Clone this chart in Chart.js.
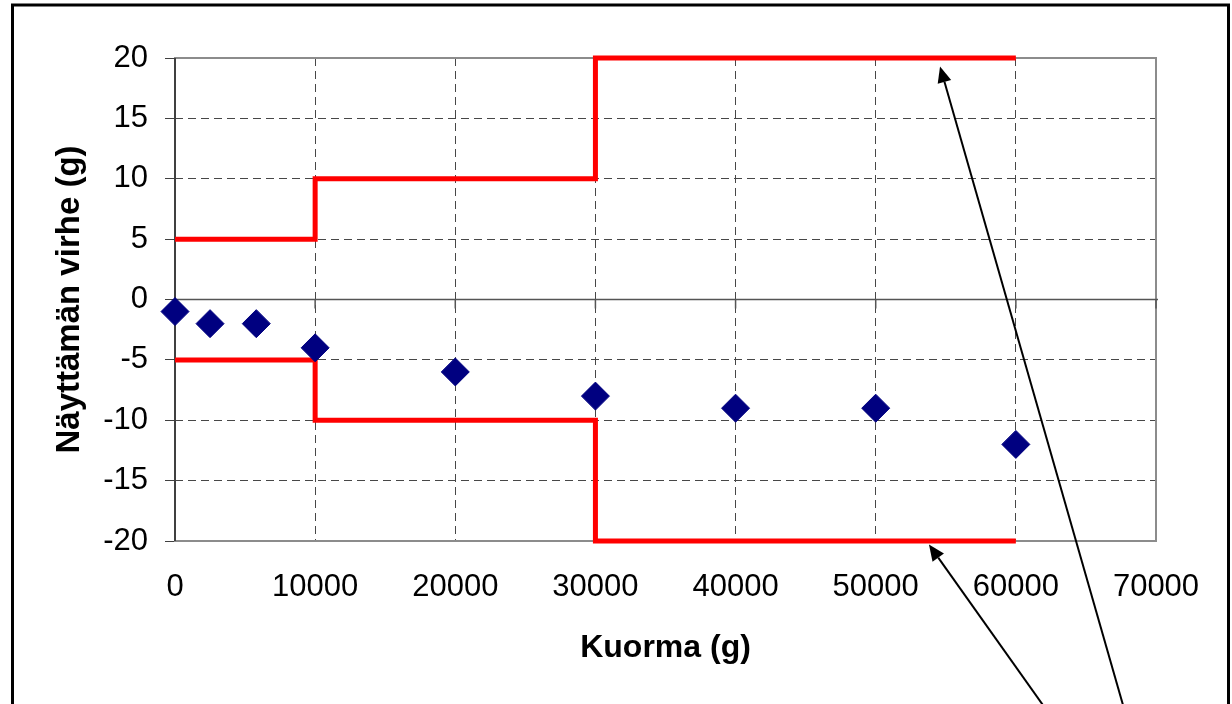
<!DOCTYPE html>
<html>
<head>
<meta charset="utf-8">
<script src="https://cdn.jsdelivr.net/npm/chart.js@4.4.1/dist/chart.umd.min.js"></script>
<style>
  html, body { margin: 0; padding: 0; background: #fff; overflow: hidden; }
  #chart { display: block; }
</style>
</head>
<body>
<canvas id="chart" width="1232" height="704"></canvas>
<script>
// ── Data ──────────────────────────────────────────────────────────────────────

// measured points: load (g) vs indication error (g)
const loadG  = [0, 2500, 5800, 10000, 20000, 30000, 40000, 50000, 60000];
const errorG = [-1, -2, -2, -4, -6, -8, -9, -9, -12];

// tolerance band, drawn as steps
const limitX     = [0, 10000, 10000, 30000, 30000, 60000];
const upperLimit = [5, 5, 10, 10, 20, 20];
const lowerLimit = [-5, -5, -10, -10, -20, -20];

const xTicks = [0, 10000, 20000, 30000, 40000, 50000, 60000, 70000];
const yTicks = [-20, -15, -10, -5, 0, 5, 10, 15, 20];

// annotation arrows pointing at the limit lines (data units)
const arrowFrom = [[67650, -33.6], [61940, -33.6]];
const arrowTo   = [[54590, 19.3], [53800, -20.3]];

const FONT = '"Liberation Sans", Arial, sans-serif';

const pts = (xs, ys) => xs.map((x, i) => ({ x, y: ys[i] }));

// ── Extra drawing ─────────────────────────────────────────────────────────────

const decor = {
    id: 'decor',
    beforeDatasetsDraw(chart) {
        const { ctx, chartArea: a, scales: { x, y } } = chart;
        ctx.save();
        // plot area border
        ctx.strokeStyle = '#8c8c8c';
        ctx.lineWidth = 2;
        ctx.strokeRect(a.left, a.top, a.right - a.left, a.bottom - a.top);
        // y axis line
        ctx.strokeStyle = '#404040';
        ctx.beginPath();
        ctx.moveTo(a.left, a.top);
        ctx.lineTo(a.left, a.bottom);
        ctx.stroke();
        // x axis crossing at zero, with its tick marks
        const y0 = y.getPixelForValue(0);
        ctx.strokeStyle = '#555';
        ctx.lineWidth = 1.5;
        ctx.beginPath();
        ctx.moveTo(a.left, y0);
        ctx.lineTo(a.right + 2, y0);
        xTicks.forEach(v => {
            const px = x.getPixelForValue(v);
            ctx.moveTo(px, y0);
            ctx.lineTo(px, y0 + 9);
        });
        ctx.stroke();
        ctx.restore();
    },
    afterDraw(chart) {
        const { ctx, scales: { x, y } } = chart;
        ctx.save();
        // arrows
        ctx.strokeStyle = '#000';
        ctx.fillStyle = '#000';
        ctx.lineWidth = 2;
        arrowFrom.forEach((f, i) => {
            const x1 = x.getPixelForValue(f[0]), y1 = y.getPixelForValue(f[1]);
            const x2 = x.getPixelForValue(arrowTo[i][0]), y2 = y.getPixelForValue(arrowTo[i][1]);
            const ang = Math.atan2(y2 - y1, x2 - x1);
            const len = 16, half = 7;
            const bx = x2 - len * Math.cos(ang), by = y2 - len * Math.sin(ang);
            ctx.beginPath();
            ctx.moveTo(x1, y1);
            ctx.lineTo(bx, by);
            ctx.stroke();
            ctx.beginPath();
            ctx.moveTo(x2, y2);
            ctx.lineTo(bx + half * Math.sin(ang), by - half * Math.cos(ang));
            ctx.lineTo(bx - half * Math.sin(ang), by + half * Math.cos(ang));
            ctx.closePath();
            ctx.fill();
        });
        // outer frame
        ctx.lineWidth = 3;
        ctx.strokeRect(12.5, 5, 1216, 760);
        ctx.restore();
    }
};

// ── Chart ─────────────────────────────────────────────────────────────────────

new Chart(document.getElementById('chart').getContext('2d'), {
    type: 'scatter',
    data: {
        datasets: [
            {
                label: 'Mitattu virhe',
                data: pts(loadG, errorG),
                pointStyle: 'rectRot',
                pointRadius: 14,
                pointBackgroundColor: '#000080',
                pointBorderColor: '#000080',
                pointBorderWidth: 1,
                showLine: false,
                clip: false,
                order: 0
            },
            {
                label: 'Yläraja',
                data: pts(limitX, upperLimit),
                showLine: true,
                borderColor: '#ff0000',
                borderWidth: 5,
                pointRadius: 0,
                tension: 0,
                clip: false,
                order: 1
            },
            {
                label: 'Alaraja',
                data: pts(limitX, lowerLimit),
                showLine: true,
                borderColor: '#ff0000',
                borderWidth: 5,
                pointRadius: 0,
                tension: 0,
                clip: false,
                order: 1
            }
        ]
    },
    options: {
        responsive: false,
        animation: false,
        layout: { padding: { left: 0, top: 58, right: 76, bottom: 0 } },
        plugins: {
            legend: { display: false },
            tooltip: { enabled: false }
        },
        scales: {
            x: {
                type: 'linear',
                min: 0, max: 70000,
                afterBuildTicks: s => { s.ticks = xTicks.map(v => ({ value: v })); },
                afterFit: s => { s.height = 163; },
                ticks: {
                    color: '#000',
                    font: { family: FONT, size: 31 },
                    padding: 28,
                    maxRotation: 0,
                    callback: v => String(v)
                },
                grid: { color: '#474747', lineWidth: 1, drawTicks: false },
                border: { display: false, dash: [8, 5] },
                title: {
                    display: true,
                    text: 'Kuorma (g)',
                    color: '#000',
                    font: { family: FONT, size: 32, weight: 'bold' },
                    padding: { top: 0, bottom: 37 }
                }
            },
            y: {
                type: 'linear',
                min: -20, max: 20,
                afterBuildTicks: s => { s.ticks = yTicks.map(v => ({ value: v })); },
                afterFit: s => { s.width = 175; },
                ticks: {
                    color: '#000',
                    font: { family: FONT, size: 31 },
                    padding: 17,
                    callback: v => String(v)
                },
                grid: {
                    color: '#474747', lineWidth: 1,
                    drawTicks: true, tickLength: 10,
                    tickColor: '#404040', tickBorderDash: []
                },
                border: { display: false, dash: [8, 5] },
                title: {
                    display: true,
                    text: 'Näyttämän virhe (g)',
                    color: '#000',
                    font: { family: FONT, size: 33, weight: 'bold' },
                    padding: { top: 50, bottom: 0 }
                }
            }
        }
    },
    plugins: [decor]
});
</script>
</body>
</html>
